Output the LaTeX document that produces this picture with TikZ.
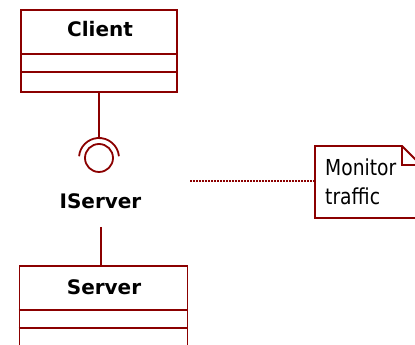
\documentclass[tikz,border=0pt]{standalone}
\usepackage{fontspec}
\setmainfont{DejaVu Sans}
\newfontfamily\notefont[FakeStretch=0.85]{DejaVu Sans}
\definecolor{umlred}{RGB}{139,0,0}
\tikzset{
  umlline/.style={draw=umlred, line width=1.8pt},
  classbox/.style={umlline, rectangle, inner sep=0pt, anchor=north west},
  classname/.style={font=\fontsize{20}{24}\selectfont\bfseries, text=black, inner sep=0pt, anchor=base},
  notetxt/.style={font=\notefont\fontsize{22}{29}\selectfont, text=black, inner sep=0pt, anchor=base west, align=left},
  dotline/.style={draw=umlred, line width=1.4pt, dash pattern=on 1.5pt off 1.5pt}
}
\begin{document}
\begin{tikzpicture}[x=1pt,y=1pt]
\useasboundingbox (0,0) rectangle (415,345);
% Client class
\node[classbox, minimum width=156pt, minimum height=82pt] (client) at (20,336) {};
\node[classname] (clientname) at (100,308) {Client};
\draw[umlline] (client.west |- 0,291) -- ++(158,0);
\draw[umlline] (client.west |- 0,273) -- ++(158,0);
% Interface socket
\coordinate (sock) at (99,187);
\coordinate (socktop) at (99,207);
\draw[umlline] (client.south -| sock) -- (socktop);
\draw[umlline] (sock) circle (14);
\draw[umlline] ([shift={(5:20)}]sock) arc[start angle=5, end angle=175, radius=20];
\node[classname] (iserver) at (100.5,136) {IServer};
% Server class
\node[classbox, minimum width=168pt, minimum height=100pt] (server) at (18.5,80) {};
\node[classname] (servername) at (104,50.3) {Server};
\draw[umlline] (server.west |- 0,35) -- ++(169,0);
\draw[umlline] (server.west |- 0,17) -- ++(169,0);
\coordinate (ifbottom) at (101,118);
\draw[umlline] (ifbottom) -- (ifbottom |- server.north);
% Note
\coordinate (nw) at (315,199);
\draw[umlline, fill=white] (nw) -- (402,199) -- (421,180) -- (421,127) -- (315,127) -- cycle;
\draw[umlline] (402,199) -- (402,180) -- (421,180);
\node[notetxt] (note) at (325,140) {Monitor\\traffic};
\coordinate (dotstart) at (190,164);
\draw[dotline] (dotstart) -- (nw |- dotstart);
\end{tikzpicture}
\end{document}
